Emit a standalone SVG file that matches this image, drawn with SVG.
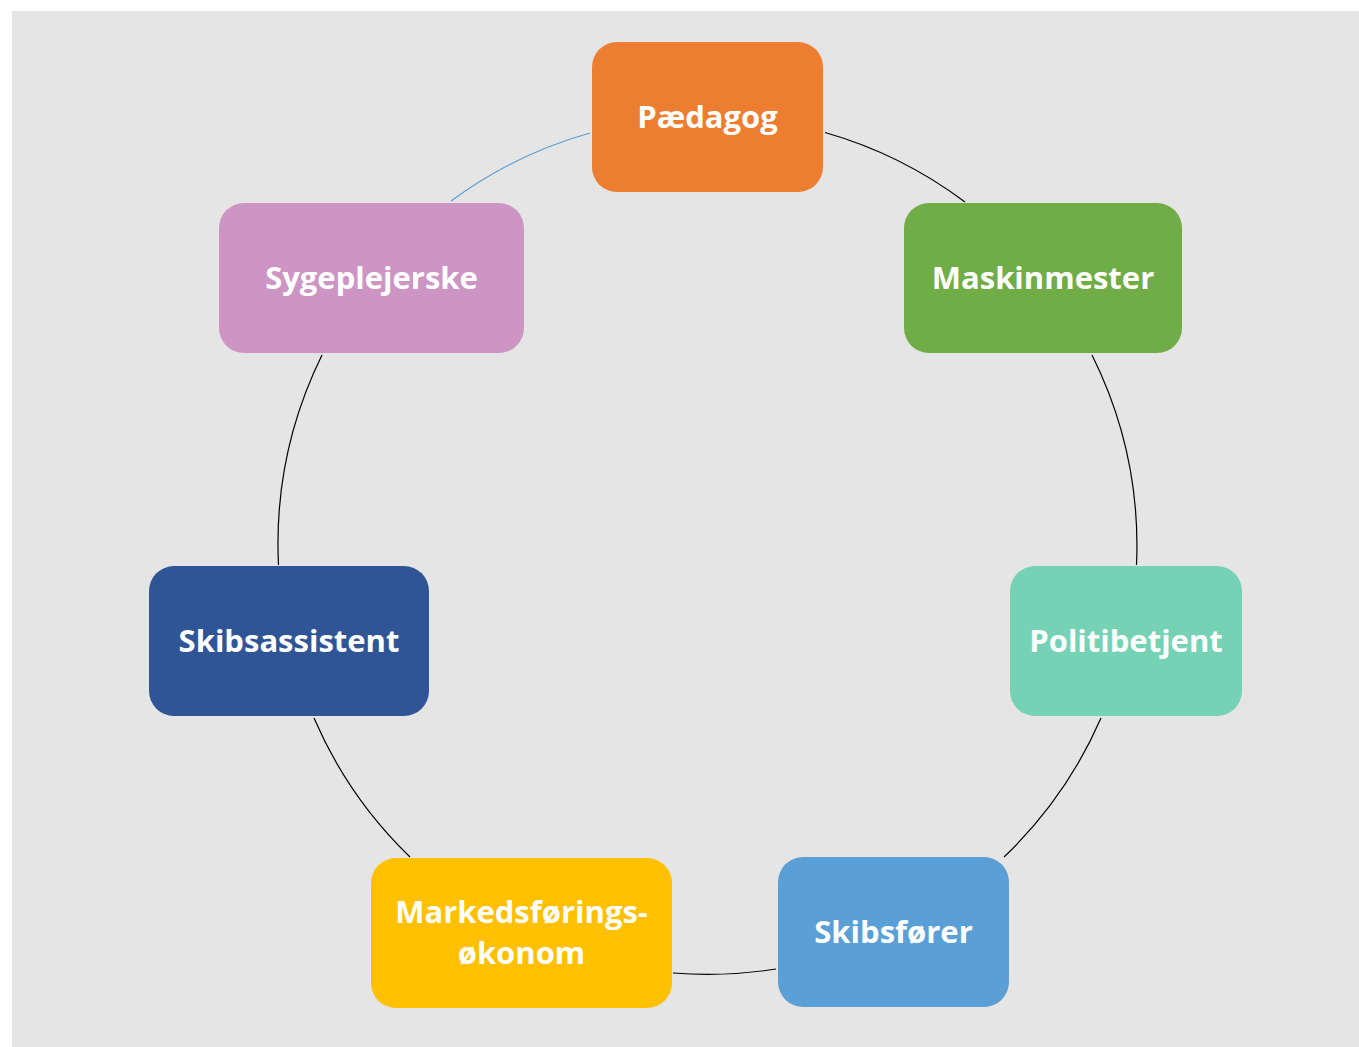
<svg xmlns="http://www.w3.org/2000/svg" width="1359" height="1047" viewBox="0 0 1359 1047">
<style>
.node rect{stroke:none}
.node text{font-family:"Open Sans","Liberation Sans",sans-serif;font-weight:bold;font-size:31px;fill:#FFFFFF;text-anchor:middle}
.conn path{fill:none;stroke:#000000;stroke-width:1.2}
</style>
<rect x="0" y="0" width="1359" height="1047" fill="#FFFFFF"/>
<rect x="12" y="11" width="1347" height="1036" fill="#E5E5E5"/>
<g id="connectors" class="conn">
<path d="M825,132.5 A429,429 0 0 1 965,202"/>
<path d="M1092,355 A429,429 0 0 1 1136.5,565"/>
<path d="M1101,718 A429,429 0 0 1 1004,857"/>
<path d="M776,969 A429,429 0 0 1 673,973"/>
<path d="M410,857 A429,429 0 0 1 314,718"/>
<path d="M278.5,565 A429,429 0 0 1 322,355"/>
<path d="M451,201 A429,429 0 0 1 590,133" style="stroke:#5B9BD5"/>
</g>
<g id="node-paedagog" class="node">
<rect x="592" y="42" width="231" height="150" rx="25" fill="#ED7D31"/>
<text x="707.5" y="128">Pædagog</text>
</g>
<g id="node-maskinmester" class="node">
<rect x="904" y="203" width="278" height="150" rx="25" fill="#70AD47"/>
<text x="1043" y="289">Maskinmester</text>
</g>
<g id="node-politibetjent" class="node">
<rect x="1010" y="566" width="232" height="150" rx="25" fill="#75D2B5"/>
<text x="1126" y="652">Politibetjent</text>
</g>
<g id="node-skibsforer" class="node">
<rect x="778" y="857" width="231" height="150" rx="25" fill="#5A9FD5"/>
<text x="893.5" y="943">Skibsfører</text>
</g>
<g id="node-markedsforingsokonom" class="node">
<rect x="371" y="858" width="301" height="150" rx="25" fill="#FFC000"/>
<text x="521.5" y="923">Markedsførings-</text>
<text x="521.5" y="964">økonom</text>
</g>
<g id="node-skibsassistent" class="node">
<rect x="149" y="566" width="280" height="150" rx="25" fill="#2F5597"/>
<text x="289" y="652">Skibsassistent</text>
</g>
<g id="node-sygeplejerske" class="node">
<rect x="219" y="203" width="305" height="150" rx="25" fill="#CC95C4"/>
<text x="371.5" y="289">Sygeplejerske</text>
</g>
</svg>
